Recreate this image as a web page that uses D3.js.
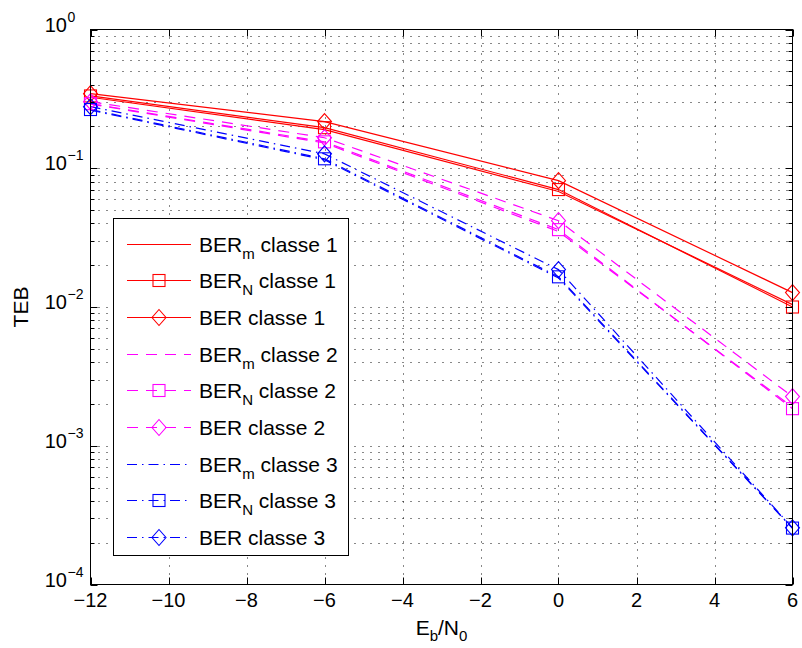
<!DOCTYPE html>
<html><head><meta charset="utf-8">
<script src="https://cdn.jsdelivr.net/npm/d3@7/dist/d3.min.js"></script>
<style>body{margin:0;background:#fff;}svg{display:block;font-family:"Liberation Sans",Arial,Helvetica,sans-serif;}</style>
</head><body><svg id="c" width="802" height="648"></svg>
<script>
// ---- data ----
const ebn0 = [-12, -6, 0, 6];
const berM1 = [0.325, 0.190, 0.068, 0.0104];
const berN1 = [0.332, 0.196, 0.0702, 0.0100];
const ber1  = [0.345, 0.217, 0.0814, 0.0127];
const berM2 = [0.290, 0.152, 0.0350, 0.00190];
const berN2 = [0.292, 0.155, 0.0361, 0.00185];
const ber2  = [0.302, 0.166, 0.0419, 0.00226];
const berM3 = [0.262, 0.115, 0.0162, 0.000254];
const berN3 = [0.265, 0.117, 0.0165, 0.000255];
const ber3  = [0.278, 0.127, 0.0186, 0.000256];
const xTicks = [-12, -10, -8, -6, -4, -2, 0, 2, 4, 6];
const yExponents = [0, -1, -2, -3, -4];
const legendSubs = ["m", "N", ""];
const classLabels = ["classe 1", "classe 2", "classe 3"];

// ---- layout ----
const svg = d3.select("#c");
const X0 = 90.5, X1 = 792.5, Y0 = 29.5, Y1 = 584.5;
const x = d3.scaleLinear().domain([-12, 6]).range([X0, X1]);
const y = d3.scaleLog().domain([1e-4, 1]).range([Y1, Y0]);

const colors = ["#ff0000", "#ff00ff", "#0000ff"];
const dashes = [null, "11,8", "10,5,1.5,5"];
const series = [
  {v: berM1, c: 0, m: null}, {v: berN1, c: 0, m: "sq"}, {v: ber1, c: 0, m: "di"},
  {v: berM2, c: 1, m: null}, {v: berN2, c: 1, m: "sq"}, {v: ber2, c: 1, m: "di"},
  {v: berM3, c: 2, m: null}, {v: berN3, c: 2, m: "sq"}, {v: ber3, c: 2, m: "di"}
];

// grid
const minorVals = [];
for (let e = -4; e < 0; e++) for (let k = 1; k <= 9; k++) minorVals.push(k * Math.pow(10, e));
const grid = svg.append("g").attr("stroke", "#111").attr("stroke-width", 1).attr("stroke-dasharray", "1,7");
grid.selectAll("line.h").data(minorVals.filter(v => v > 1e-4 && v < 1)).enter().append("line")
  .attr("x1", X0).attr("x2", X1).attr("y1", d => Math.round(y(d)) + 0.5).attr("y2", d => Math.round(y(d)) + 0.5);
grid.selectAll("line.v").data(xTicks.slice(1, -1)).enter().append("line")
  .attr("y1", Y0).attr("y2", Y1).attr("x1", d => Math.round(x(d)) + 0.5).attr("x2", d => Math.round(x(d)) + 0.5);

// curves
const line = d3.line().x((d, i) => x(ebn0[i])).y(d => y(d));
const sq = 6, dw = 7, dh = 8;
function marker(g, type, cx, cy, col) {
  if (type === "sq") g.append("rect").attr("x", cx - sq).attr("y", cy - sq).attr("width", 2 * sq).attr("height", 2 * sq)
      .attr("fill", "none").attr("stroke", col).attr("stroke-width", 1.1);
  else if (type === "di") g.append("path").attr("d", `M${cx},${cy - dh}L${cx + dw},${cy}L${cx},${cy + dh}L${cx - dw},${cy}Z`)
      .attr("fill", "none").attr("stroke", col).attr("stroke-width", 1.1);
}
const plot = svg.append("g");
series.forEach(s => {
  plot.append("path").attr("d", line(s.v)).attr("fill", "none").attr("stroke", colors[s.c])
    .attr("stroke-width", 1.2).attr("stroke-dasharray", dashes[s.c]);
});
series.forEach(s => {
  if (s.m) s.v.forEach((v, i) => marker(plot, s.m, x(ebn0[i]), y(v), colors[s.c]));
});

// axes box + ticks
const ax = svg.append("g").attr("stroke", "#000").attr("stroke-width", 1);
ax.append("rect").attr("x", X0).attr("y", Y0).attr("width", X1 - X0).attr("height", Y1 - Y0).attr("fill", "none");
xTicks.forEach(t => {
  const px = Math.round(x(t)) + 0.5;
  ax.append("line").attr("x1", px).attr("x2", px).attr("y1", Y1).attr("y2", Y1 - 7);
  ax.append("line").attr("x1", px).attr("x2", px).attr("y1", Y0).attr("y2", Y0 + 7);
});
minorVals.concat([1]).forEach(v => {
  const py = Math.round(y(v)) + 0.5;
  const major = Math.abs(Math.log10(v) - Math.round(Math.log10(v))) < 1e-9;
  const L = major ? 7 : 4;
  ax.append("line").attr("x1", X0).attr("x2", X0 + L).attr("y1", py).attr("y2", py);
  ax.append("line").attr("x1", X1).attr("x2", X1 - L).attr("y1", py).attr("y2", py);
});

// tick labels
const fs = 20;
svg.append("g").selectAll("text").data(xTicks).enter().append("text")
  .attr("x", d => x(d)).attr("y", Y1 + 22).attr("text-anchor", "middle").attr("font-size", fs)
  .text(d => d < 0 ? "\u2212" + Math.abs(d) : d);
yExponents.forEach(e => {
  svg.append("text").attr("x", 67).attr("y", y(Math.pow(10, e)) + 2).attr("font-size", fs).attr("text-anchor", "end").text("10");
  svg.append("text").attr("x", 67.5).attr("y", y(Math.pow(10, e)) - 8).attr("font-size", 14)
    .text(e < 0 ? "\u2212" + Math.abs(e) : e);
});

// axis labels
const xl = svg.append("text").attr("x", (X0 + X1) / 2).attr("y", 635).attr("text-anchor", "middle").attr("font-size", 21);
xl.append("tspan").text("E");
xl.append("tspan").attr("font-size", 15).attr("dy", 6).text("b");
xl.append("tspan").attr("dy", -6).text("/N");
xl.append("tspan").attr("font-size", 15).attr("dy", 6).text("0");
svg.append("text").attr("transform", `translate(28,${(Y0 + Y1) / 2}) rotate(-90)`).attr("text-anchor", "middle")
  .attr("font-size", 21).text("TEB");

// legend
const LX = 113.5, LY = 218.5, LW = 235, LH = 337, rowH = 36.67, row0 = 243.5;
const lg = svg.append("g");
lg.append("rect").attr("x", LX).attr("y", LY).attr("width", LW).attr("height", LH)
  .attr("fill", "#fff").attr("stroke", "#000").attr("stroke-width", 1);
series.forEach((s, i) => {
  const ry = Math.round(row0 + i * rowH) + 0.5;
  lg.append("line").attr("x1", 127).attr("x2", 191).attr("y1", ry).attr("y2", ry)
    .attr("stroke", colors[s.c]).attr("stroke-width", 1.2).attr("stroke-dasharray", dashes[s.c]);
  if (s.m) marker(lg, s.m, 159, ry, colors[s.c]);
  const t = lg.append("text").attr("x", 199).attr("y", ry + 7).attr("font-size", 21);
  t.append("tspan").text("BER");
  const sub = legendSubs[i % 3];
  if (sub) {
    t.append("tspan").attr("font-size", 15).attr("dy", 7).text(sub);
    t.append("tspan").attr("dy", -7).text(" " + classLabels[s.c]);
  } else t.append("tspan").text(" " + classLabels[s.c]);
});
</script></body></html>
